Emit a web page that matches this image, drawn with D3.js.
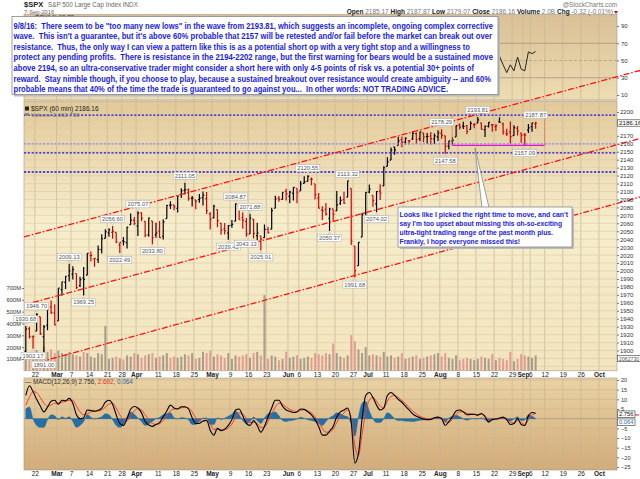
<!DOCTYPE html>
<html>
<head>
<meta charset="utf-8">
<script src="https://cdn.jsdelivr.net/npm/d3@7"></script>
<style>
  body { margin: 0; background: #fff; }
  svg { display: block; }
  text { font-family: "Liberation Sans", Arial, sans-serif; }
</style>
</head>
<body>
<svg width="640" height="479"></svg>
<script>
// ---- data (one value per trading day, Feb 17 .. Sep 7 2016) ----
const firstDay = "2016-02-17";
const holidays = ["2016-03-25", "2016-05-30", "2016-07-04", "2016-09-05"];

const opens = [1898.80,1927.57,1916.74,1924.44,1942.38,1917.56,1931.87,1954.95,1947.13,1937.09,
  1976.60,1985.60,1994.01,1996.11,1996.88,1981.44,1990.97,1994.71,2019.27,2015.27,
  2014.24,2026.90,2041.16,2047.88,2048.64,2048.55,2032.48,2037.89,2035.75,2058.27,
  2063.77,2056.62,2073.19,2062.50,2045.56,2063.01,2045.54,2050.23,2043.72,2065.92,
  2082.89,2083.10,2078.83,2096.05,2101.52,2102.09,2091.49,2089.37,2089.84,2092.33,
  2090.93,2071.82,2067.17,2077.18,2060.30,2052.95,2047.77,2057.55,2062.63,2083.29,
  2067.17,2062.50,2046.53,2065.04,2044.38,2044.21,2041.88,2052.23,2052.65,2078.93,
  2091.44,2090.06,2100.13,2093.94,2097.71,2104.07,2100.83,2110.18,2112.71,2115.65,
  2109.57,2091.75,2076.65,2077.60,2066.36,2078.20,2075.58,2085.19,2089.75,2092.80,
  2103.81,2031.45,2006.67,2042.69,2073.17,2099.34,2095.05,2084.43,2100.42,2106.97,
  2131.72,2139.50,2155.81,2157.88,2165.13,2162.04,2163.79,2166.10,2172.91,2166.47,
  2173.71,2168.97,2169.81,2166.05,2168.83,2173.15,2169.94,2156.81,2163.51,2168.79,
  2183.76,2182.24,2182.81,2177.97,2183.74,2186.08,2186.24,2177.84,2181.90,2184.24,
  2181.58,2187.81,2185.09,2173.29,2175.10,2170.19,2179.45,2173.56,2171.33,2177.49,
  2181.61,2185.17];
const highs = [1930.68,1930.00,1918.78,1946.70,1942.38,1932.08,1951.83,1962.96,1958.27,1978.35,
  1986.51,1993.69,2009.13,2006.12,1996.88,1992.69,2005.08,2022.37,2024.57,2015.94,
  2032.02,2046.24,2052.36,2053.91,2056.60,2048.55,2036.04,2042.67,2055.91,2072.21,
  2067.92,2075.07,2074.02,2062.50,2067.33,2063.01,2060.63,2062.93,2065.05,2083.18,
  2087.84,2083.22,2094.66,2104.05,2111.05,2103.78,2094.32,2089.37,2096.87,2099.89,
  2099.30,2073.85,2083.42,2077.18,2060.30,2060.23,2057.72,2064.15,2084.87,2083.29,
  2073.99,2066.79,2071.88,2065.69,2060.61,2044.21,2058.35,2055.58,2079.67,2094.73,
  2094.30,2099.06,2103.48,2100.97,2105.26,2104.07,2113.36,2119.22,2120.55,2117.64,
  2109.57,2098.12,2081.30,2085.65,2079.62,2078.20,2100.66,2093.66,2099.71,2113.32,
  2103.81,2031.45,2036.09,2073.13,2098.94,2108.71,2095.05,2100.72,2109.08,2131.71,
  2143.16,2155.40,2156.45,2168.99,2169.05,2168.35,2164.63,2175.63,2174.56,2175.11,
  2173.71,2173.54,2174.98,2172.85,2177.09,2178.29,2170.20,2163.79,2168.19,2182.87,
  2185.44,2187.66,2183.41,2188.45,2186.28,2193.81,2186.24,2183.08,2187.03,2185.00,
  2184.93,2193.42,2186.66,2179.00,2187.94,2183.48,2182.27,2173.79,2173.56,2184.87,
  2186.57,2187.87];
const lows = [1898.80,1915.09,1902.17,1924.44,1919.44,1891.00,1925.41,1945.78,1931.81,1937.09,
  1968.80,1977.37,1986.77,1989.38,1977.43,1979.84,1969.25,1994.71,2012.05,2005.23,
  2010.04,2022.16,2041.16,2043.14,2040.57,2034.86,2022.49,2031.96,2028.31,2058.27,
  2057.46,2043.98,2062.57,2042.56,2043.09,2033.80,2041.69,2041.88,2039.74,2065.92,
  2078.13,2076.31,2073.65,2091.68,2096.32,2088.52,2081.20,2077.52,2085.80,2082.31,
  2071.62,2052.28,2066.11,2054.89,2045.55,2045.77,2039.45,2054.31,2062.63,2064.46,
  2053.13,2043.13,2046.53,2040.82,2034.49,2025.91,2041.88,2047.26,2052.65,2078.93,
  2087.08,2090.06,2088.66,2085.10,2088.59,2085.36,2100.83,2110.18,2112.71,2107.73,
  2089.96,2078.46,2064.10,2069.80,2050.37,2062.84,2075.58,2083.02,2084.36,2092.80,
  2032.57,1991.68,2006.67,2042.69,2070.00,2097.90,2080.86,2074.02,2089.39,2106.97,
  2131.72,2139.50,2146.21,2157.88,2155.79,2159.07,2159.01,2164.89,2159.75,2163.24,
  2161.95,2160.18,2159.07,2159.74,2163.49,2166.21,2147.58,2152.70,2159.07,2168.79,
  2177.85,2178.61,2172.00,2177.97,2179.42,2186.08,2178.14,2168.50,2180.46,2175.13,
  2175.96,2186.80,2171.25,2169.74,2160.39,2170.19,2170.41,2161.35,2157.09,2173.59,
  2175.10,2179.07];
const closes = [1926.82,1917.83,1917.78,1945.50,1921.27,1929.80,1951.70,1948.05,1932.23,1978.35,
  1986.45,1993.40,1999.99,2001.76,1979.26,1989.26,1989.57,2022.19,2019.64,2015.93,
  2027.22,2040.59,2049.58,2051.60,2049.80,2036.71,2035.94,2037.05,2055.01,2063.95,
  2059.74,2072.78,2066.13,2045.17,2066.66,2041.91,2047.60,2041.99,2061.72,2082.42,
  2082.78,2080.73,2094.34,2100.80,2102.40,2091.48,2091.58,2087.79,2091.70,2095.15,
  2075.81,2065.30,2081.43,2063.37,2051.12,2050.63,2057.14,2058.69,2084.39,2064.46,
  2064.11,2046.61,2066.66,2047.21,2047.63,2040.04,2052.32,2048.04,2076.06,2090.54,
  2090.10,2099.06,2096.95,2099.33,2105.26,2099.13,2109.41,2112.13,2119.12,2115.48,
  2096.07,2079.06,2075.32,2071.50,2077.99,2071.22,2083.25,2088.90,2085.45,2113.32,
  2037.41,2000.54,2036.09,2070.77,2098.86,2102.95,2088.55,2099.73,2097.90,2129.90,
  2137.16,2152.14,2152.43,2163.75,2161.74,2166.89,2163.78,2173.02,2165.17,2175.03,
  2168.48,2169.18,2166.58,2170.06,2173.60,2170.84,2157.03,2163.79,2164.25,2182.87,
  2180.89,2181.74,2175.49,2185.79,2184.05,2190.15,2178.15,2182.22,2187.02,2183.87,
  2182.64,2186.90,2175.44,2172.47,2169.04,2180.38,2176.12,2170.95,2170.86,2179.98,
  2186.48,2186.16];
// tallest 60-min volume bar of each day, millions
const volumes = [170,150,140,175,130,200,160,180,150,170, 150,140,160,140,130,120,160,150,120,110,
  150,140,380,100,110,120,105,95,130,120, 150,140,110,130,140,150,110,120,130,150,
  110,120,110,120,140,130,150,100,110,160, 150,170,120,140,130,110,150,100,130,120,
  130,140,110,150,160,130,640,100,130,120, 90,100,160,110,120,130,100,110,120,110,
  150,140,130,150,140,230,150,120,110,130, 300,250,180,150,200,130,140,130,120,160,
  120,130,110,120,150,100,110,120,130,100, 110,120,130,140,150,120,150,110,100,130,
  90,100,110,100,90,100,120,110,100,140, 90,110,100,90,160,80,100,140,130,120,
  110,130];
const macdLine = [12,17,14,10,6.5,3.5,6,9,9.5,7.5, 9.5,9.2,10.5,8,2,0,0.5,4.5,4.2,3.8,
  4.3,5.5,8.5,9.5,7.5,2,-2.5,-3.5,0,5, 6.3,5.5,3,-1.5,-3.3,-4,-3,-2,1,4,
  7,5.5,5,6.2,6.2,5,0.5,-2.5,-2.5,-1.2, -0.8,-6,-8.5,-5,-6.2,-5.5,-3.5,-0.5,4.5,5,
  1.5,-2.5,-3.5,-1,-3.5,-7,-4,1,5.5,9.5, 9.5,6.5,4.5,3.8,3.2,3.5,5,4.8,3.5,2,
  -0.5,-4,-8.5,-8.5,-6.5,-4,1,3.5,4.5,5.5, -2,-23,-18,0,12,13.5,11,7,4.5,5.5,
  12,13.5,12,10,8.5,6.5,4.5,2.5,1.3,0.5, -0.2,-0.5,-0.4,0.5,0.8,0,-3.5,-1.5,1,4,
  4.5,3.5,2,2.2,2.3,1.8,2.7,1,-1.8,-0.5, -0.2,0.3,0.8,-0.5,-3,-2.5,0,-3,-3.5,1.5,
  3.2,2.756];
const signalLine = [7,11,14,13.5,11,8,6.5,7,8,8, 8.5,9,9.5,9.5,6.5,3.5,2,2.5,3.5,4,
  4,4.5,6,7.5,8,5.5,2,-0.5,-1,1.5, 4,5.2,4.5,2,-0.5,-2.5,-3,-2.6,-1,1.5,
  4,5,5.2,5.6,5.9,5.6,3.5,0.5,-1,-1.5, -1.2,-3,-5.5,-5.5,-5.8,-5.7,-4.8,-2.8,0.5,3,
  2.5,0,-2,-1.8,-2.5,-4.5,-4.3,-1.5,2.5,6, 8,7.5,6,4.8,4,3.7,4.3,4.6,4,3,
  1,-1.5,-5,-7,-7,-5.5,-2,1,3,4.5, 0.5,-14,-19,-8,3,9.5,11,9,6.5,5.5,
  9,11.5,12,11,9.5,7.8,5.8,4,2.5,1.3, 0.5,0,-0.2,0.1,0.5,0.3,-1.8,-1.8,-0.3,2.2,
  3.5,3.6,2.8,2.4,2.3,2,2.3,1.6,-0.3,-0.5, -0.3,0,0.5,0.1,-1.8,-2.3,-1,-2,-3,-0.5,
  2,2.692];
// RSI(14): only the last stretch shows past the note box
const rsiStart = "2016-08-22";
const rsiValues = [62,55,45,36,45,38,54,40,38,60,58,60.35];

const tickDates = ["2016-02-22","2016-03-01","2016-03-07","2016-03-14","2016-03-21","2016-03-28",
  "2016-04-01","2016-04-11","2016-04-18","2016-04-25","2016-05-02","2016-05-09","2016-05-16",
  "2016-05-23","2016-06-01","2016-06-06","2016-06-13","2016-06-20","2016-06-27","2016-07-01",
  "2016-07-11","2016-07-18","2016-07-25","2016-08-01","2016-08-08","2016-08-15","2016-08-22",
  "2016-08-29","2016-09-01","2016-09-06","2016-09-12","2016-09-19","2016-09-26","2016-10-03"];
const tickLabels = ["22","Mar","7","14","21","28","Apr","11","18","25","May","9","16","23",
  "Jun","6","13","20","27","Jul","11","18","25","Aug","8","15","22","29","Sep","6","12","19","26","Oct"];
const monthLabels = ["Mar","Apr","May","Jun","Jul","Aug","Sep","Oct"];
// 2180/2190 sit under the last-price box, as in the original
const priceTicks = [1900,1910,1920,1930,1940,1950,1960,1970,1980,1990,2000,2010,2020,2030,2040,
  2050,2060,2070,2080,2090,2100,2110,2120,2130,2140,2150,2160,2170,2200];
const macdTicks = [-25,-20,-15,-10,-5,5,10,15,20];
const rsiTicks = [90,70,50,30,10];
const volumeTicks = [100,200,300,400,500,600,700];

const labelDates = ["2016-02-17","2016-02-19","2016-02-22","2016-02-24","2016-03-04","2016-03-10",
  "2016-03-22","2016-03-24","2016-04-01","2016-04-07","2016-04-20","2016-05-06","2016-05-10",
  "2016-05-13","2016-05-16","2016-05-19","2016-06-08","2016-06-16","2016-06-23","2016-06-27",
  "2016-07-06","2016-08-01","2016-08-02","2016-08-15","2016-09-01","2016-09-07"];
const labelValues = [1930.68,1902.17,1946.70,1891.00,2009.13,1969.25,2056.60,2022.49,2075.07,
  2033.80,2111.05,2039.45,2084.87,2043.13,2071.88,2025.91,2120.55,2050.37,2113.32,1991.68,
  2074.02,2178.29,2147.58,2193.81,2157.09,2187.87];
const labelSides = "hlhlhlhlhlhlhlhlhlhllhlhlh".split("");

const levels = [2196, 2160, 2148.5, 2124.5];
const supportLevel = 2158;
const rangeBox = [118.4, 144, 2196, 2158];      // day from, day to, top, bottom
const channels = [[0, 2042.8, 170.4, 2252.2],   // [day, price, day, price]
                  [2.5, 1960.4, 170.4, 2166.7],
                  [4.4, 1885.5, 170.4, 2093.0]];

const note1 = [
  "9/8/16:  There seem to be \"too many new lows\" in the wave from 2193.81, which suggests an incomplete, ongoing complex corrective",
  "wave.  This isn't a guarantee, but it's above 60% probable that 2157 will be retested and/or fail before the market can break out over",
  "resistance.  Thus, the only way I can view a pattern like this is as a potential short op with a very tight stop and a willingness to",
  "protect any pending profits.  There is resistance in the 2194-2202 range, but the first warning for bears would be a sustained move",
  "above 2194, so an ultra-conservative trader might consider a short here with only 4-5 points of risk vs. a potential 30+ points of",
  "reward.  Stay nimble though, if you choose to play, because a sustained breakout over resistance would create ambiguity -- and 60%",
  "probable means that 40% of the time the trade is guaranteed to go against you...  In other words: NOT TRADING ADVICE."];
const note1Ends = [493, 492, 470, 493, 474, 491, 448];
const note2 = [
  "Looks like I picked the right time to move, and can't",
  "say I'm too upset about missing this oh-so-exciting",
  "ultra-tight trading range of the past month plus.",
  "Frankly, I hope everyone missed this!"];
const note2Ends = [568, 562, 553, 520];

// ---- trading calendar ----
const parse = d3.utcParse("%Y-%m-%d"), fmt = d3.utcFormat("%Y-%m-%d");
const calendar = d3.utcDays(parse(firstDay), parse("2016-10-31"))
  .filter(d => d.getUTCDay() % 6 !== 0).map(fmt).filter(s => !holidays.includes(s));
const dayIndex = s => calendar.indexOf(s);

// ---- layout ----
const L = 24, R = 617;
const rsiTop = 14.5, rsiBot = 100, mainTop = 101, mainBot = 370.8, macdTop = 378, macdBot = 470;

const x = d3.scaleLinear().domain([0, 164]).range([L, R]);
const cx = i => x(i + 0.5);
const y = d3.scaleLinear().domain([2200, 1920]).range([112, 334.6]);
const vol = d3.scaleLinear().domain([0, 700]).range([mainBot, 288]);
const rsiY = d3.scaleLinear().domain([90, 10]).range([26, 95]);
const macdY = d3.scaleLinear().domain([20, -25]).range([380, 467]);

const svg = d3.select("svg");
const defs = svg.append("defs");
function grad(id, stops) {
  const g = defs.append("linearGradient").attr("id", id)
    .attr("x1", 0).attr("y1", 0).attr("x2", 0).attr("y2", 1);
  stops.forEach(s => g.append("stop").attr("offset", s[0]).attr("stop-color", s[1]));
}
grad("gRsi", [[0, "#dac096"], [1, "#eddcb2"]]);
grad("gMain", [[0, "#e3c999"], [0.45, "#f6edcc"], [1, "#f2e4bd"]]);
grad("gMacd", [[0, "#e9d2a4"], [1, "#d2ab78"]]);
defs.append("clipPath").attr("id", "cMain").append("rect")
  .attr("x", L).attr("y", mainTop).attr("width", R - L).attr("height", mainBot - mainTop);
defs.append("clipPath").attr("id", "cMacd").append("rect")
  .attr("x", L).attr("y", macdTop).attr("width", R - L).attr("height", macdBot - macdTop);

// panels
[[rsiTop, rsiBot, "gRsi"], [mainTop, mainBot, "gMain"], [macdTop, macdBot, "gMacd"]].forEach(p => {
  svg.append("rect").attr("x", L).attr("y", p[0]).attr("width", R - L).attr("height", p[1] - p[0])
    .attr("fill", `url(#${p[2]})`).attr("stroke", "#a09890").attr("stroke-width", 0.6);
});

// vertical grid
const tickIdx = tickDates.map(dayIndex);
[[rsiTop, rsiBot], [mainTop, mainBot], [macdTop, macdBot]].forEach(p => {
  svg.append("g").selectAll("line").data(tickIdx).join("line")
    .attr("x1", d => x(d)).attr("x2", d => x(d)).attr("y1", p[0]).attr("y2", p[1])
    .attr("stroke", "#c7b593").attr("stroke-width", 0.7);
});
// horizontal grid
svg.append("g").selectAll("line").data(d3.range(1880, 2211, 10)).join("line")
  .attr("x1", L).attr("x2", R).attr("y1", d => y(d)).attr("y2", d => y(d))
  .attr("stroke", "#dccba4").attr("stroke-width", 0.6).attr("clip-path", "url(#cMain)");
svg.append("g").selectAll("line").data(d3.range(-25, 21, 5)).join("line")
  .attr("x1", L).attr("x2", R).attr("y1", d => macdY(d)).attr("y2", d => macdY(d))
  .attr("stroke", d => d === 0 ? "#9a9080" : "#cdb58c").attr("stroke-width", 0.6);
svg.append("g").selectAll("line").data([70, 50, 30]).join("line")
  .attr("x1", L).attr("x2", R).attr("y1", d => rsiY(d)).attr("y2", d => rsiY(d))
  .attr("stroke", d => d === 50 ? "#a89a80" : "#9a8e7a").attr("stroke-width", 0.7)
  .attr("stroke-dasharray", d => d === 50 ? "3,2" : null);

// RSI line
const rsi0 = dayIndex(rsiStart);
svg.append("path").datum(rsiValues)
  .attr("d", d3.line().x((d, i) => cx(rsi0 + i)).y(d => rsiY(d)))
  .attr("fill", "none").attr("stroke", "#111").attr("stroke-width", 0.9);

// volume
const mainG = svg.append("g").attr("clip-path", "url(#cMain)");
mainG.append("g").selectAll("rect").data(volumes).join("rect")
  .attr("x", (d, i) => cx(i) - 1).attr("width", 2)
  .attr("y", d => vol(d)).attr("height", d => vol(0) - vol(d))
  .attr("fill", (d, i) => closes[i] >= opens[i] ? "#a09484" : "#e2948e").attr("opacity", 0.9);

// horizontal levels
svg.append("g").selectAll("line").data(levels).join("line")
  .attr("x1", L).attr("x2", R).attr("y1", d => y(d)).attr("y2", d => y(d))
  .attr("stroke", (d, i) => i === 1 ? "#8a8af0" : "#1818e0").attr("stroke-width", 1.3)
  .attr("stroke-dasharray", "2.2,1.6");

// range box
svg.append("path")
  .attr("d", `M${x(rangeBox[0])},${y(rangeBox[2])}V${y(rangeBox[3])}M${x(rangeBox[1])},${y(rangeBox[2])}V${y(rangeBox[3])}`)
  .attr("stroke", "#e07060").attr("stroke-width", 0.8).attr("fill", "none");
svg.append("line").attr("x1", x(rangeBox[0])).attr("x2", x(rangeBox[1]))
  .attr("y1", y(supportLevel)).attr("y2", y(supportLevel))
  .attr("stroke", "#e010e0").attr("stroke-width", 1.2);

// channel lines
svg.append("g").selectAll("line").data(channels).join("line")
  .attr("x1", d => x(d[0])).attr("y1", d => y(d[1])).attr("x2", d => x(d[2])).attr("y2", d => y(d[3]))
  .attr("stroke", "#ff1010").attr("stroke-width", 1.3).attr("stroke-dasharray", "6,2,1.5,2");

// price bars
mainG.append("g").selectAll("path").data(closes).join("path")
  .attr("d", (c, i) => {
    const m = cx(i);
    return `M${m},${y(highs[i])}V${y(lows[i])}M${m - 1.3},${y(opens[i])}H${m}M${m},${y(c)}H${m + 1.3}`;
  })
  .attr("stroke", (c, i) => (i > 0 ? c >= closes[i - 1] : c >= opens[i]) ? "#000" : "#d40000")
  .attr("stroke-width", 1.2).attr("fill", "none");

// swing labels
const lg = svg.append("g");
labelDates.forEach((d, k) => {
  const m = cx(dayIndex(d));
  const high = labelSides[k] === "h";
  const py = y(labelValues[k]);
  const cy = high ? py - 7 : py + 7;
  const g = lg.append("g");
  g.append("path")
    .attr("d", high ? `M${m - 2},${cy + 3}L${m},${cy + 5.5}L${m + 2},${cy + 3}Z`
                    : `M${m - 2},${cy - 3}L${m},${cy - 5.5}L${m + 2},${cy - 3}Z`)
    .attr("fill", "#fff").attr("stroke", "#999").attr("stroke-width", 0.5);
  const t = g.append("text").attr("x", m).attr("y", cy + 2).attr("text-anchor", "middle")
    .attr("font-size", 5.8).attr("fill", "#555").text(labelValues[k].toFixed(2));
  const w = t.node().getComputedTextLength() + 3;
  g.insert("rect", "text").attr("x", m - w / 2).attr("y", cy - 3.5).attr("width", w).attr("height", 7)
    .attr("fill", "#fff").attr("stroke", "#aaa").attr("stroke-width", 0.5);
});

// MACD
const macdG = svg.append("g").attr("clip-path", "url(#cMacd)");
const hist = macdLine.map((d, i) => d - signalLine[i]);
macdG.append("path").datum(hist)
  .attr("d", d3.area().x((d, i) => cx(i)).y0(macdY(0)).y1(d => macdY(d)).curve(d3.curveMonotoneX))
  .attr("fill", "#2370a8").attr("stroke", "#1a5a8a").attr("stroke-width", 0.4);
macdG.append("path").datum(signalLine)
  .attr("d", d3.line().x((d, i) => cx(i)).y(d => macdY(d)).curve(d3.curveMonotoneX))
  .attr("fill", "none").attr("stroke", "#f04030").attr("stroke-width", 1);
macdG.append("path").datum(macdLine)
  .attr("d", d3.line().x((d, i) => cx(i)).y(d => macdY(d)).curve(d3.curveMonotoneX))
  .attr("fill", "none").attr("stroke", "#000").attr("stroke-width", 1.1);

// axes
function styleAxis(g, size) {
  g.select(".domain").remove();
  g.selectAll("text").attr("font-size", size).attr("fill", "#333")
    .style("font-family", '"Liberation Sans", Arial, sans-serif');
  g.selectAll(".tick line").attr("stroke", "#777");
}
[mainBot, macdBot].forEach(yy => {
  const g = svg.append("g").attr("transform", `translate(0,${yy})`)
    .call(d3.axisBottom(x).tickValues(tickIdx).tickSize(0).tickPadding(1.5)
      .tickFormat((d, i) => tickLabels[i]));
  styleAxis(g, 6.5);
  g.selectAll("text").attr("font-weight", d => monthLabels.includes(tickLabels[tickIdx.indexOf(d)]) ? "bold" : null)
    .attr("fill", "#222");
});
const gy = svg.append("g").attr("transform", `translate(${R},0)`)
  .call(d3.axisRight(y).tickValues(priceTicks).tickSize(2).tickPadding(1).tickFormat(d3.format("d")));
styleAxis(gy, 6);
const gr = svg.append("g").attr("transform", `translate(${R},0)`)
  .call(d3.axisRight(rsiY).tickValues(rsiTicks).tickSize(2).tickPadding(2));
styleAxis(gr, 6);
const gm = svg.append("g").attr("transform", `translate(${R},0)`)
  .call(d3.axisRight(macdY).tickValues(macdTicks).tickSize(2).tickPadding(2));
styleAxis(gm, 5.6);
const gv = svg.append("g").attr("transform", `translate(${L},0)`)
  .call(d3.axisLeft(vol).tickValues(volumeTicks).tickSize(2).tickPadding(1).tickFormat(d => d + "M"));
styleAxis(gv, 5.8);

// value boxes on the right axis
function valueBox(yy, txt, color, size) {
  const g = svg.append("g");
  const t = g.append("text").attr("x", R + 2).attr("y", yy + 2.1).attr("font-size", size || 6.2)
    .attr("fill", color || "#111").text(txt);
  const w = t.node().getComputedTextLength() + 3;
  g.insert("rect", "text").attr("x", R + 0.5).attr("y", yy - 3.2).attr("width", w).attr("height", 6.4)
    .attr("fill", "#fff").attr("stroke", "#333").attr("stroke-width", 0.6);
}
valueBox(y(closes[closes.length - 1]), "2186.16");
valueBox(vol(100) - 0.5, "2062730", "#555", 5.2);
svg.append("line").attr("x1", R).attr("x2", R + 22).attr("y1", macdY(signalLine[141]) + 1.5).attr("y2", macdY(signalLine[141]) + 1.5)
  .attr("stroke", "#e02020").attr("stroke-width", 1);
valueBox(macdY(macdLine[141]) + 0.8, "2.756", "#111", 5.8);
valueBox(macdY(hist[141]) + 3.6, "0.064", "#2a6aa0", 5.8);

// header
svg.append("text").attr("x", 24).attr("y", 7.3).attr("font-size", 7.5).attr("font-weight", "bold").attr("fill", "#222").text("$SPX");
svg.append("text").attr("x", 48).attr("y", 7.3).attr("font-size", 6.3).attr("fill", "#666").text("S&P 500 Large Cap Index INDX");
svg.append("text").attr("x", 24).attr("y", 14.2).attr("font-size", 5.8).attr("fill", "#666").text("7-Sep-2016");
svg.append("text").attr("x", R).attr("y", 7).attr("text-anchor", "end").attr("font-size", 6.3).attr("fill", "#777").text("@StockCharts.com");
const hdr = svg.append("text").attr("x", R - 4).attr("y", 13.5).attr("text-anchor", "end").attr("font-size", 6.5);
[["Open ", 1], ["2185.17 ", 0], ["High ", 1], ["2187.87 ", 0], ["Low ", 1], ["2179.07 ", 0],
 ["Close ", 1], ["2186.16 ", 0], ["Volume ", 1], ["2.0B ", 0], ["Chg ", 1], ["-0.32 (-0.01%)", 0]]
  .forEach(p => hdr.append("tspan").attr("font-weight", p[1] ? "bold" : null).attr("fill", p[1] ? "#222" : "#777").text(p[0]));
svg.append("path").attr("d", `M${R - 3},11L${R + 1},11L${R - 1},14Z`).attr("fill", "#d00");

// legends
svg.append("text").attr("x", 27).attr("y", 20).attr("font-size", 6.3).attr("fill", "#333").text("\u25B2 RSI(14) 60.35");
svg.append("rect").attr("x", 25).attr("y", 106.5).attr("width", 4).attr("height", 4).attr("fill", "#222");
svg.append("text").attr("x", 31).attr("y", 111).attr("font-size", 6.5).attr("fill", "#222").text("$SPX (60 min) 2186.16");
svg.append("rect").attr("x", 25).attr("y", 113).attr("width", 4).attr("height", 3).attr("fill", "#888");
svg.append("text").attr("x", 31).attr("y", 117).attr("font-size", 6).attr("fill", "#777").text("Volume 2,062,730");
const ml = svg.append("text").attr("x", 25).attr("y", 384).attr("font-size", 6.3).attr("fill", "#333");
ml.append("tspan").text("\u2014 MACD(12,26,9) 2.756, ");
ml.append("tspan").attr("fill", "#e03020").text("2.692");
ml.append("tspan").text(", ");
ml.append("tspan").attr("fill", "#2a6aa0").text("0.064");

// note box 1
svg.append("rect").attr("x", 14).attr("y", 18.5).attr("width", 486).attr("height", 78).attr("fill", "#bbb");
svg.append("rect").attr("x", 12).attr("y", 16.5).attr("width", 486).attr("height", 78)
  .attr("fill", "#fff").attr("stroke", "#888").attr("stroke-width", 0.8);
svg.append("g").selectAll("text").data(note1).join("text")
  .attr("x", 13.5).attr("y", (d, i) => 28.6 + i * 10.6)
  .attr("textLength", (d, i) => note1Ends[i] - 13.5).attr("lengthAdjust", "spacingAndGlyphs")
  .attr("font-size", 8.6).attr("font-weight", "bold").attr("fill", "#1c1ce0").style("white-space", "pre")
  .text(d => d);

// callout + note box 2
svg.append("path").attr("d", "M475,148L482,207.5L489,207.5Z")
  .attr("fill", "#fff").attr("stroke", "#888").attr("stroke-width", 0.8);
svg.append("rect").attr("x", 400).attr("y", 209).attr("width", 174).attr("height", 40).attr("fill", "#bbb");
svg.append("rect").attr("x", 398).attr("y", 207).attr("width", 174).attr("height", 40)
  .attr("fill", "#fff").attr("stroke", "#888").attr("stroke-width", 0.8);
svg.append("g").selectAll("text").data(note2).join("text")
  .attr("x", 399.5).attr("y", (d, i) => 216.8 + i * 9.2)
  .attr("textLength", (d, i) => note2Ends[i] - 399.5).attr("lengthAdjust", "spacingAndGlyphs")
  .attr("font-size", 8).attr("font-weight", "bold").attr("fill", "#1c1ce0")
  .text(d => d);
</script>
</body>
</html>
